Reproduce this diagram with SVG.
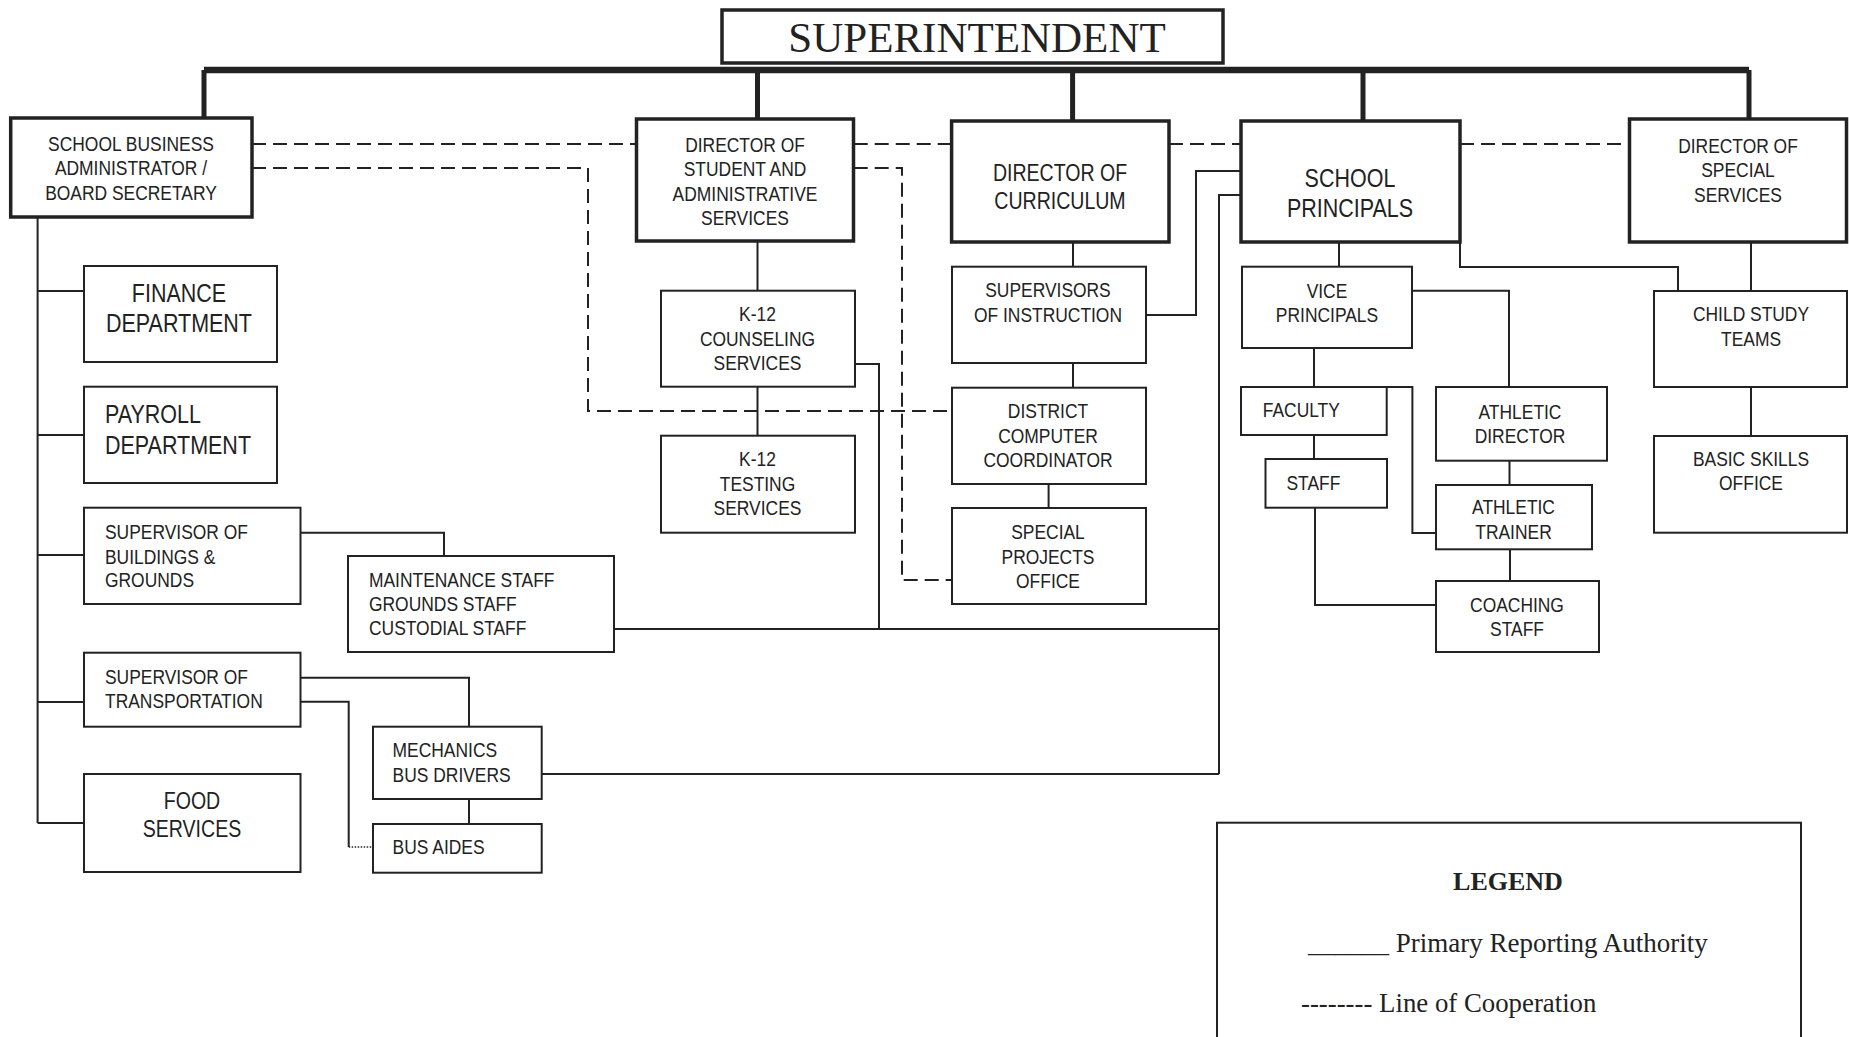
<svg xmlns="http://www.w3.org/2000/svg" width="1849" height="1037" viewBox="0 0 1849 1037">
<style>
.bx{fill:#fff;stroke:#222;stroke-width:2}
.bk{stroke-width:3.5}
.t{font-family:"Liberation Sans",Arial,sans-serif;font-size:21px;fill:#222;transform-box:fill-box;transform-origin:50% 50%;transform:scaleX(.83)}
.c{text-anchor:middle}
.l{text-anchor:start;transform-origin:0% 50%}
.big{font-size:25px;transform:scaleX(.86)}
.mid{font-size:23px;transform:scaleX(.85)}
.s{font-family:"Liberation Serif","Times New Roman",serif;fill:#222}
.ln{fill:none;stroke:#222;stroke-width:2}
.th{fill:none;stroke:#222;stroke-width:5}
.bus{fill:none;stroke:#222;stroke-width:6.5}
.da{fill:none;stroke:#222;stroke-width:2;stroke-dasharray:14 7}
.dt{fill:none;stroke:#222;stroke-width:1.5;stroke-dasharray:1.5 1.5}
</style>
<g id="connectors">
<path class="bus" d="M204 70H1749"/>
<path class="th" d="M204 70V118M757.5 70V119M1072.6 70V121M1363 70V121M1749 70V119"/>
<path class="ln" d="M37.6 217V823M37.6 291H84M37.6 435H84M37.6 555H84M37.6 702H84M37.6 823H84"/>
<path class="ln" d="M300.5 532.7H444V556"/>
<path class="ln" d="M300.5 677.7H469V726.7"/>
<path class="ln" d="M300.5 701.7H348.7V847"/>
<path class="dt" d="M348.7 847H373"/>
<path class="ln" d="M469 799V824"/>
<path class="ln" d="M541.7 774H1219"/>
<path class="ln" d="M614 629H1219"/>
<path class="ln" d="M855 364H879V629"/>
<path class="ln" d="M757.5 241V290.7M757.5 386.7V435.7"/>
<path class="ln" d="M1073 242V266.7M1073 363V387.7M1048.6 484V508"/>
<path class="ln" d="M1146 315H1196V171H1241"/>
<path class="ln" d="M1241 195H1219V774"/>
<path class="ln" d="M1339 242V266.7"/>
<path class="ln" d="M1460 242V267H1678V291"/>
<path class="ln" d="M1751 242V291M1751 387V436"/>
<path class="ln" d="M1412 290.7H1509V387"/>
<path class="ln" d="M1314 348V387M1314 435V459"/>
<path class="ln" d="M1386.7 387H1412.4V533H1436"/>
<path class="ln" d="M1315 507.7V605H1436"/>
<path class="ln" d="M1509.5 460.7V485M1510 549.3V581"/>
<path class="da" d="M252 144H636.5M853.7 144H951.6M1169 144H1241M1460 144H1629.5"/>
<path class="da" d="M252 168H588V411H952"/>
<path class="da" d="M853.7 168H902V580H952"/>
</g>
<g id="superintendent"><rect class="bx bk" x="722" y="10" width="501" height="53"/><text class="s" x="977" y="52" font-size="43" text-anchor="middle">SUPERINTENDENT</text></g>
<g id="sba"><rect class="bx bk" x="10.7" y="118" width="241.3" height="99"/><text class="t c"><tspan x="131" y="151.5">SCHOOL BUSINESS</tspan><tspan x="131" y="175.5">ADMINISTRATOR /</tspan><tspan x="131" y="200.5">BOARD SECRETARY</tspan></text></g>
<g id="dsas"><rect class="bx bk" x="636.5" y="119" width="217" height="122"/><text class="t c"><tspan x="745" y="152.5">DIRECTOR OF</tspan><tspan x="745" y="176.5">STUDENT AND</tspan><tspan x="745" y="201.5">ADMINISTRATIVE</tspan><tspan x="745" y="225.5">SERVICES</tspan></text></g>
<g id="doc"><rect class="bx bk" x="951.6" y="121" width="217.4" height="121"/><text class="t c mid"><tspan x="1060" y="181.3">DIRECTOR OF</tspan><tspan x="1060" y="209.3">CURRICULUM</tspan></text></g>
<g id="sp"><rect class="bx bk" x="1241" y="121" width="219" height="121"/><text class="t c big"><tspan x="1350" y="187">SCHOOL</tspan><tspan x="1350" y="217">PRINCIPALS</tspan></text></g>
<g id="dss"><rect class="bx bk" x="1629.5" y="119" width="217" height="123"/><text class="t c"><tspan x="1738" y="153.5">DIRECTOR OF</tspan><tspan x="1738" y="177.5">SPECIAL</tspan><tspan x="1738" y="202.5">SERVICES</tspan></text></g>
<g id="finance"><rect class="bx" x="84" y="266" width="193" height="96"/><text class="t c big"><tspan x="179" y="302">FINANCE</tspan><tspan x="179" y="332">DEPARTMENT</tspan></text></g>
<g id="payroll"><rect class="bx" x="84" y="386.7" width="193" height="96.3"/><text class="t l big"><tspan x="105" y="423">PAYROLL</tspan><tspan x="105" y="454">DEPARTMENT</tspan></text></g>
<g id="sbg"><rect class="bx" x="84" y="507.7" width="216.5" height="96.3"/><text class="t l"><tspan x="105" y="539.2">SUPERVISOR OF</tspan><tspan x="105" y="564.2">BUILDINGS &amp;</tspan><tspan x="105" y="587.5">GROUNDS</tspan></text></g>
<g id="maint"><rect class="bx" x="348" y="556" width="266" height="96"/><text class="t l"><tspan x="369" y="587.5">MAINTENANCE STAFF</tspan><tspan x="369" y="611.5">GROUNDS STAFF</tspan><tspan x="369" y="635.5">CUSTODIAL STAFF</tspan></text></g>
<g id="transport"><rect class="bx" x="84" y="652.7" width="216.5" height="74"/><text class="t l"><tspan x="105" y="684">SUPERVISOR OF</tspan><tspan x="105" y="708.5">TRANSPORTATION</tspan></text></g>
<g id="mechanics"><rect class="bx" x="373" y="726.7" width="168.7" height="72.3"/><text class="t l"><tspan x="392.6" y="757.5">MECHANICS</tspan><tspan x="392.6" y="781.8">BUS DRIVERS</tspan></text></g>
<g id="busaides"><rect class="bx" x="373" y="824" width="168.7" height="48.7"/><text class="t l" x="392.6" y="854.5">BUS AIDES</text></g>
<g id="food"><rect class="bx" x="84" y="774" width="216.5" height="98"/><text class="t c mid"><tspan x="192" y="809.3">FOOD</tspan><tspan x="192" y="837.3">SERVICES</tspan></text></g>
<g id="counseling"><rect class="bx" x="661" y="290.7" width="194" height="96"/><text class="t c"><tspan x="757.5" y="321.5">K-12</tspan><tspan x="757.5" y="346.5">COUNSELING</tspan><tspan x="757.5" y="370.5">SERVICES</tspan></text></g>
<g id="testing"><rect class="bx" x="661" y="435.7" width="194" height="97"/><text class="t c"><tspan x="757.5" y="466.5">K-12</tspan><tspan x="757.5" y="491.5">TESTING</tspan><tspan x="757.5" y="515.5">SERVICES</tspan></text></g>
<g id="supervisors"><rect class="bx" x="952" y="266.7" width="194" height="96.3"/><text class="t c"><tspan x="1048" y="297.5">SUPERVISORS</tspan><tspan x="1048" y="322.5">OF INSTRUCTION</tspan></text></g>
<g id="dcc"><rect class="bx" x="952" y="387.7" width="194" height="96.3"/><text class="t c"><tspan x="1048" y="418.5">DISTRICT</tspan><tspan x="1048" y="443.2">COMPUTER</tspan><tspan x="1048" y="467.5">COORDINATOR</tspan></text></g>
<g id="spo"><rect class="bx" x="952" y="508" width="194" height="96"/><text class="t c"><tspan x="1048" y="539.2">SPECIAL</tspan><tspan x="1048" y="564.2">PROJECTS</tspan><tspan x="1048" y="588.5">OFFICE</tspan></text></g>
<g id="vp"><rect class="bx" x="1242" y="266.7" width="170" height="81.3"/><text class="t c"><tspan x="1327" y="298.2">VICE</tspan><tspan x="1327" y="322.5">PRINCIPALS</tspan></text></g>
<g id="faculty"><rect class="bx" x="1241" y="387" width="145.7" height="48"/><text class="t l" x="1262.8" y="417.5">FACULTY</text></g>
<g id="staff"><rect class="bx" x="1265.5" y="459" width="121.5" height="48.7"/><text class="t l" x="1286.5" y="490.5">STAFF</text></g>
<g id="ad"><rect class="bx" x="1436" y="387" width="171" height="73.7"/><text class="t c"><tspan x="1520" y="419.2">ATHLETIC</tspan><tspan x="1520" y="443.5">DIRECTOR</tspan></text></g>
<g id="at"><rect class="bx" x="1436" y="485" width="156" height="64.3"/><text class="t c"><tspan x="1513.5" y="514.5">ATHLETIC</tspan><tspan x="1513.5" y="539.2">TRAINER</tspan></text></g>
<g id="coaching"><rect class="bx" x="1436" y="581" width="163" height="71"/><text class="t c"><tspan x="1517" y="612.5">COACHING</tspan><tspan x="1517" y="636.5">STAFF</tspan></text></g>
<g id="cst"><rect class="bx" x="1654" y="291" width="193" height="96"/><text class="t c"><tspan x="1751" y="321.5">CHILD STUDY</tspan><tspan x="1751" y="346.5">TEAMS</tspan></text></g>
<g id="bso"><rect class="bx" x="1654" y="436" width="193" height="96.7"/><text class="t c"><tspan x="1751" y="466.5">BASIC SKILLS</tspan><tspan x="1751" y="490.5">OFFICE</tspan></text></g>
<g id="legend"><rect class="bx" x="1217" y="822.7" width="584" height="230"/><text class="s" x="1508" y="890" font-size="26" font-weight="bold" text-anchor="middle">LEGEND</text><text class="s" x="1308" y="952" font-size="27">______ Primary Reporting Authority</text><text class="s" x="1301" y="1012" font-size="26.8">-------- Line of Cooperation</text></g>
</svg>
